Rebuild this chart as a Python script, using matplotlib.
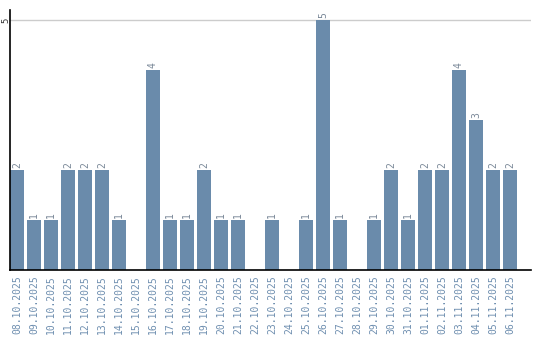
import matplotlib

matplotlib.use("Agg")
import matplotlib.pyplot as plt

dates = [
    "08.10.2025", "09.10.2025", "10.10.2025", "11.10.2025", "12.10.2025",
    "13.10.2025", "14.10.2025", "15.10.2025", "16.10.2025", "17.10.2025",
    "18.10.2025", "19.10.2025", "20.10.2025", "21.10.2025", "22.10.2025",
    "23.10.2025", "24.10.2025", "25.10.2025", "26.10.2025", "27.10.2025",
    "28.10.2025", "29.10.2025", "30.10.2025", "31.10.2025", "01.11.2025",
    "02.11.2025", "03.11.2025", "04.11.2025", "05.11.2025", "06.11.2025",
]
counts = [2, 1, 1, 2, 2, 2, 1, 0, 4, 1, 1, 2, 1, 1, 0,
          1, 0, 1, 5, 1, 0, 1, 2, 1, 2, 2, 4, 3, 2, 2]
y_ticks = [5]

BAR = "#6a8bab"
LABEL = "#6f8fb0"
MONO = "DejaVu Sans Mono"

fig = plt.figure(figsize=(5.4, 3.4), dpi=100)
# axes: x 10..531 px, y 10..270 px (from top)
ax = fig.add_axes([10 / 540, 70 / 340, 521 / 540, 260 / 340])

x = list(range(len(dates)))
ax.bar(x, counts, width=14 / 17, color=BAR, zorder=2)
for xi, c in zip(x, counts):
    if c > 0:
        ax.text(xi, c + 0.04, str(c), rotation=90, ha="center", va="bottom",
                fontsize=7, color="#7a8898", family=MONO)

ax.set_xlim(-7 / 17, 30.24)
ax.set_ylim(0, 5.2)
ax.set_yticks(y_ticks)
ax.set_yticklabels([str(t) for t in y_ticks], rotation=90, va="center",
                   ha="center", fontsize=6.5, family=MONO, color="#333333")
ax.yaxis.grid(True, color="#cccccc", linewidth=1, zorder=0)
ax.tick_params(axis="y", length=0, pad=3.2)

ax.set_xticks(x)
ax.set_xticklabels(dates, rotation=90, fontsize=7, family=MONO, color=LABEL)
ax.tick_params(axis="x", length=0, pad=4)

for side in ("top", "right"):
    ax.spines[side].set_visible(False)
ax.spines["left"].set_color("black")
ax.spines["bottom"].set_color("black")
ax.spines["left"].set_linewidth(1.2)
ax.spines["bottom"].set_linewidth(1.2)

fig.savefig("out.png", dpi=100)
